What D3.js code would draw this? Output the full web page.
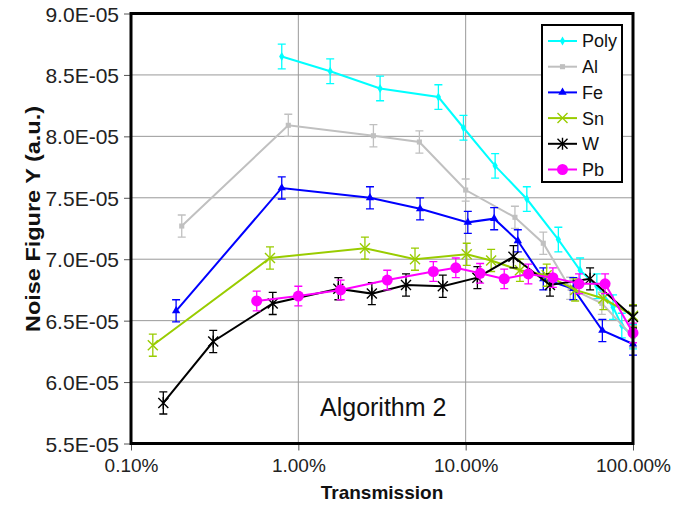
<!DOCTYPE html>
<html>
<head>
<meta charset="utf-8">
<script src="https://cdn.jsdelivr.net/npm/d3@7"></script>
<style>
  html, body { margin: 0; padding: 0; background: #fff; }
  svg { display: block; font-family: "Liberation Sans", Arial, sans-serif; }
</style>
</head>
<body>
<svg id="chart" width="689" height="506"></svg>
<script>
// Transmission (%) and noise figure (units of 1E-05) for each absorber material
const transPoly = [0.796, 1.55, 3.08, 6.87, 9.7, 15.0, 23.2, 35.8, 48.3, 60.8, 76, 85.7, 100];
const noisePoly = [8.65, 8.53, 8.39, 8.32, 8.07, 7.76, 7.49, 7.16, 6.91, 6.78, 6.61, 6.46, 6.37];

const transAl = [0.201, 0.871, 2.81, 5.29, 10.0, 19.7, 29.1, 42.1, 65.1, 100];
const noiseAl = [7.27, 8.09, 8.005, 7.954, 7.563, 7.341, 7.13, 6.763, 6.641, 6.37];

const transFe = [0.186, 0.796, 2.68, 5.34, 10.3, 14.8, 20.5, 29.1, 44.0, 65.6, 100];
const noiseFe = [6.58, 7.58, 7.50, 7.41, 7.30, 7.33, 7.15, 6.84, 6.76, 6.42, 6.31];

const transSn = [0.135, 0.677, 2.50, 4.98, 10.15, 14.2, 21.1, 30.5, 45.1, 66.5, 100];
const noiseSn = [6.30, 7.01, 7.09, 7.00, 7.04, 6.99, 6.91, 6.87, 6.75, 6.68, 6.54];

const transW = [0.156, 0.31, 0.703, 1.734, 2.75, 4.40, 7.30, 11.75, 19.3, 31.9, 55.4, 100];
const noiseW = [5.83, 6.33, 6.64, 6.76, 6.72, 6.79, 6.78, 6.85, 7.02, 6.79, 6.84, 6.53];

const transPb = [0.564, 1.0, 1.79, 3.40, 6.41, 8.73, 12.2, 17.0, 23.7, 33.2, 47.6, 68.1, 100];
const noisePb = [6.66, 6.70, 6.75, 6.83, 6.90, 6.93, 6.885, 6.84, 6.88, 6.85, 6.80, 6.80, 6.40];

// Half-height of the error bars, per material (units of 1E-05)
const seriesNames = ["Poly", "Al", "Fe", "Sn", "W", "Pb"];
const errorHalf = [0.10, 0.09, 0.09, 0.09, 0.09, 0.08];

// Axis ticks
const xTicks = [0.1, 1, 10, 100];
const yTicks = [5.5, 6.0, 6.5, 7.0, 7.5, 8.0, 8.5, 9.0];

const colors = ["#00ffff", "#c0c0c0", "#0000ff", "#99cc00", "#000000", "#ff00ff"];
const markers = ["diamond", "square", "triangle", "x", "asterisk", "circle"];

const series = seriesNames.map((name, i) => {
  const t = [transPoly, transAl, transFe, transSn, transW, transPb][i];
  const v = [noisePoly, noiseAl, noiseFe, noiseSn, noiseW, noisePb][i];
  return { name, color: colors[i], marker: markers[i], err: errorHalf[i],
           points: t.map((x, j) => ({ x, y: v[j] })) };
});

const svg = d3.select("#chart");
const plot = { left: 131, right: 633, top: 13.5, bottom: 443.5 };

const x = d3.scaleLog().domain([0.1, 100]).range([plot.left, plot.right]);
const y = d3.scaleLinear().domain([5.5, 9.0]).range([plot.bottom, plot.top]);

// Grid lines
const grid = svg.append("g").attr("stroke", "#999").attr("stroke-width", 1);
grid.selectAll("line.h").data(yTicks).join("line")
  .attr("x1", plot.left).attr("x2", plot.right)
  .attr("y1", d => y(d)).attr("y2", d => y(d));
grid.selectAll("line.v").data(xTicks).join("line")
  .attr("y1", plot.top).attr("y2", plot.bottom)
  .attr("x1", d => x(d)).attr("x2", d => x(d));

// Axes
const yAxis = d3.axisLeft(y).tickValues(yTicks).tickSize(7).tickPadding(5)
  .tickFormat(d => d.toFixed(1) + "E-05");
const xAxis = d3.axisBottom(x).tickValues(xTicks).tickSize(7).tickPadding(5)
  .tickFormat(d => d.toFixed(2) + "%");

const gy = svg.append("g").attr("transform", `translate(${plot.left},0)`).call(yAxis);
const gx = svg.append("g").attr("transform", `translate(0,${plot.bottom})`).call(xAxis);
[gx, gy].forEach(g => {
  g.select(".domain").remove();
  g.selectAll(".tick line").attr("stroke", "#555").attr("stroke-width", 1);
  g.selectAll(".tick text").attr("fill", "#222")
    .style("font-family", "'Liberation Sans', Arial, sans-serif");
});
gx.selectAll(".tick text").style("font-size", "19px").attr("dy", "0.85em");
gy.selectAll(".tick text").style("font-size", "21px").attr("dy", "0.36em");

// Marker paths
function markerPath(kind) {
  switch (kind) {
    case "diamond": return d3.symbol(d3.symbolDiamond, 24)();
    case "square": return d3.symbol(d3.symbolSquare, 26)();
    case "triangle": return d3.symbol(d3.symbolTriangle, 30)();
    case "circle": return d3.symbol(d3.symbolCircle, 95)();
    case "x": return "M-5,-5L5,5M-5,5L5,-5";
    case "asterisk": return "M-5,-5L5,5M-5,5L5,-5M0,-6L0,6";
  }
}
const strokeOnly = k => k === "x" || k === "asterisk";

const capW = 4;
const dataG = svg.append("g");
series.forEach(s => {
  const g = dataG.append("g");
  // error bars
  const eb = g.append("g").attr("stroke", s.color).attr("stroke-width", 1.3).attr("fill", "none");
  s.points.forEach(p => {
    const xp = x(p.x), y0 = y(p.y - s.err), y1 = y(p.y + s.err);
    eb.append("path").attr("d",
      `M${xp},${y0}L${xp},${y1}M${xp - capW},${y0}L${xp + capW},${y0}M${xp - capW},${y1}L${xp + capW},${y1}`);
  });
  // line
  g.append("path").datum(s.points)
    .attr("fill", "none").attr("stroke", s.color).attr("stroke-width", 2)
    .attr("d", d3.line().x(d => x(d.x)).y(d => y(d.y)));
  // markers
  g.selectAll("path.mk").data(s.points).join("path").attr("class", "mk")
    .attr("transform", d => `translate(${x(d.x)},${y(d.y)})`)
    .attr("d", markerPath(s.marker))
    .attr("fill", strokeOnly(s.marker) ? "none" : s.color)
    .attr("stroke", strokeOnly(s.marker) ? s.color : "none")
    .attr("stroke-width", 1.4);
});

// Plot frame
svg.append("rect")
  .attr("x", plot.left).attr("y", plot.top)
  .attr("width", plot.right - plot.left).attr("height", plot.bottom - plot.top)
  .attr("fill", "none").attr("stroke", "#000").attr("stroke-width", 3);

// Annotation
svg.append("text").attr("x", 320).attr("y", 416)
  .style("font-size", "25px").attr("fill", "#111").text("Algorithm 2");

// Axis titles
svg.append("text").attr("x", (plot.left + plot.right) / 2).attr("y", 499)
  .attr("text-anchor", "middle").style("font-size", "19px").style("font-weight", "bold")
  .attr("fill", "#111").text("Transmission");
svg.append("text")
  .attr("transform", "translate(40,219) rotate(-90)")
  .attr("text-anchor", "middle").style("font-size", "20px").style("font-weight", "bold")
  .attr("textLength", 226).attr("lengthAdjust", "spacingAndGlyphs")
  .attr("fill", "#111").text("Noise Figure Y (a.u.)");

// Legend
const lg = svg.append("g");
lg.append("rect").attr("x", 542).attr("y", 25).attr("width", 80).attr("height", 157)
  .attr("fill", "#fff").attr("stroke", "#000").attr("stroke-width", 2);
series.forEach((s, i) => {
  const cy = 41 + i * 25.7;
  lg.append("line").attr("x1", 548).attr("x2", 577).attr("y1", cy).attr("y2", cy)
    .attr("stroke", s.color).attr("stroke-width", 2);
  lg.append("path").attr("transform", `translate(562.5,${cy})`)
    .attr("d", markerPath(s.marker))
    .attr("fill", strokeOnly(s.marker) ? "none" : s.color)
    .attr("stroke", strokeOnly(s.marker) ? s.color : "none")
    .attr("stroke-width", 1.4);
  lg.append("text").attr("x", 582).attr("y", cy).attr("dy", "0.36em")
    .style("font-size", "18px").attr("fill", "#111").text(s.name);
});
</script>
</body>
</html>
